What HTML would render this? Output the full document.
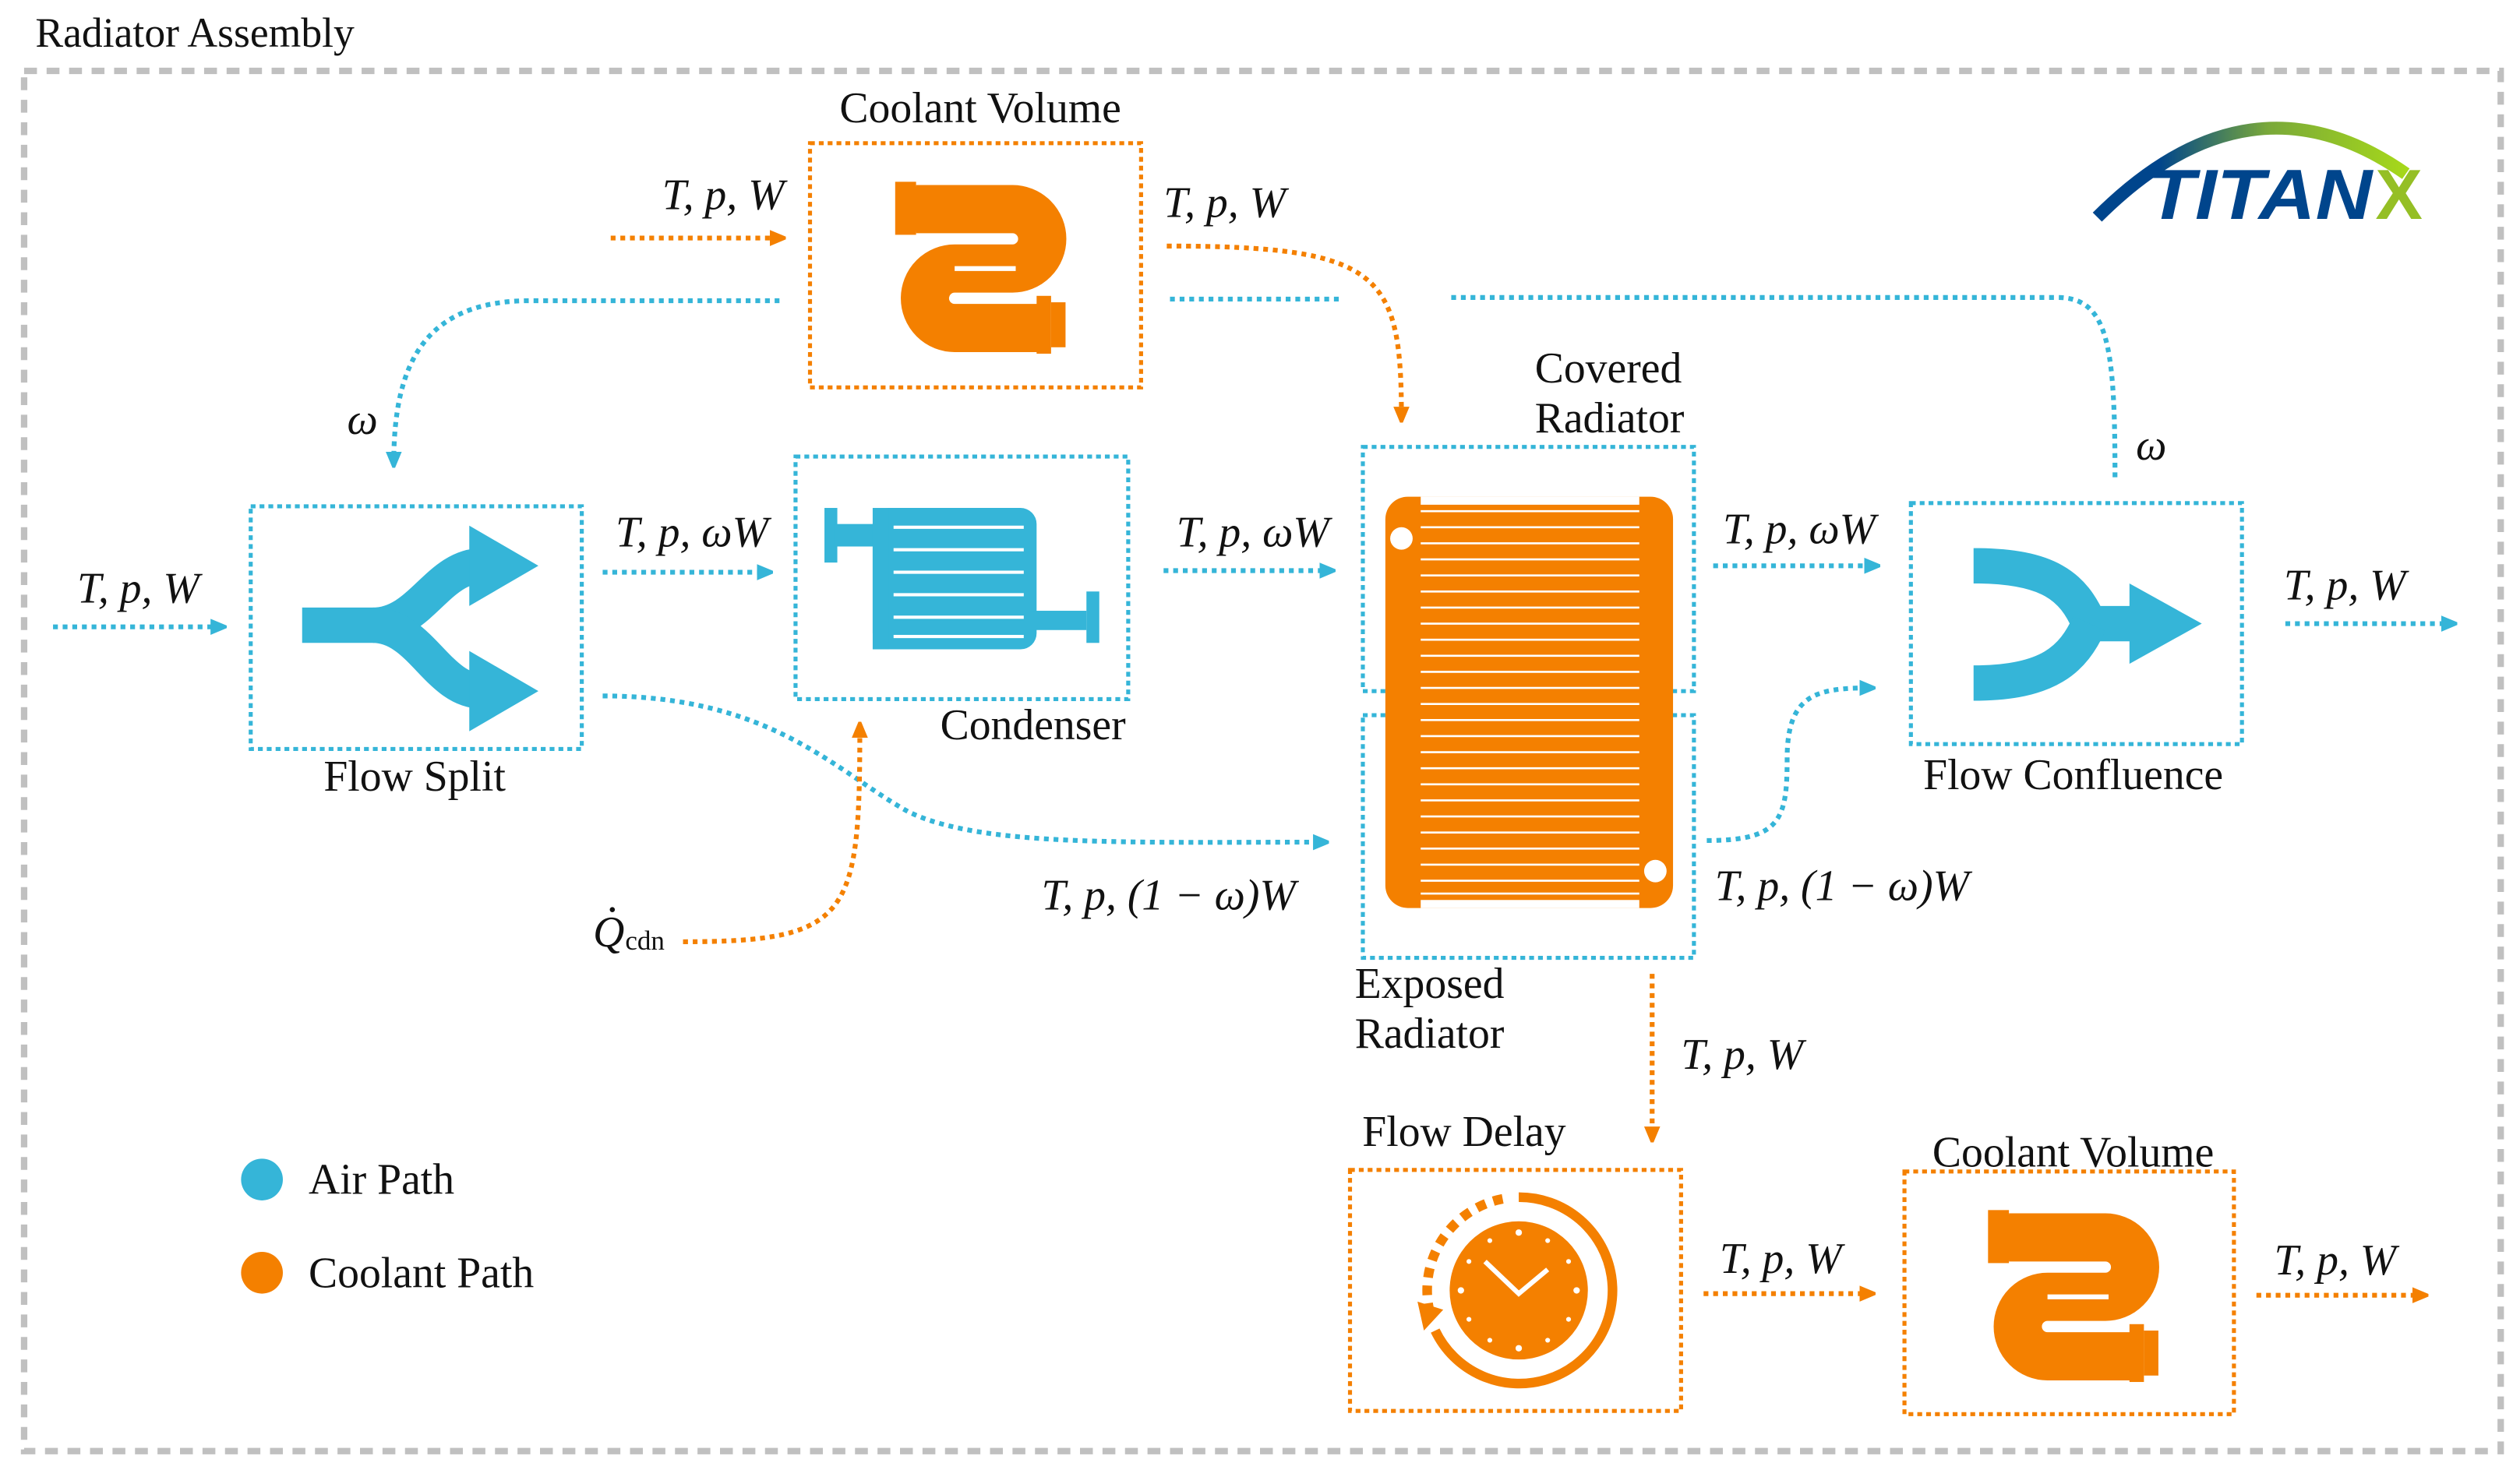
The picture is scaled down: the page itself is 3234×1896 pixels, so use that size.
<!DOCTYPE html>
<html><head><meta charset="utf-8"><style>
html,body{margin:0;padding:0;background:#fff}
svg{display:block}
text{font-family:"Liberation Serif",serif;fill:#111}
.m{font-style:italic}
</style></head><body>
<svg width="3234" height="1896" viewBox="0 0 1568 919" xmlns="http://www.w3.org/2000/svg">
<defs>
<marker id="ab" markerWidth="10" markerHeight="10" refX="7" refY="5" orient="auto" markerUnits="userSpaceOnUse"><path d="M0,0 L12,5 L0,10z" fill="#35b5d8"/></marker>
<marker id="ao" markerWidth="10" markerHeight="10" refX="7" refY="5" orient="auto" markerUnits="userSpaceOnUse"><path d="M0,0 L12,5 L0,10z" fill="#f48000"/></marker>
<linearGradient id="lg" x1="0" x2="1"><stop offset="0.2" stop-color="#00458c"/><stop offset="0.55" stop-color="#79a83a"/><stop offset="1" stop-color="#a6d81a"/></linearGradient>
</defs>
<rect x="15" y="44" width="1541" height="859" fill="none" stroke="#c0c0c0" stroke-width="4" stroke-dasharray="8,6"/>
<text x="22" y="29" font-size="26">Radiator Assembly</text>

<!-- logo -->
<path d="M1305,135 Q1400,40 1497,108" fill="none" stroke="url(#lg)" stroke-width="8"/>
<text x="1336" y="136" font-size="44" font-weight="bold" font-style="italic" style="font-family:'Liberation Sans',sans-serif;fill:#00458c" textLength="140" lengthAdjust="spacingAndGlyphs">TITAN</text>
<text x="1478" y="136" font-size="44" font-weight="bold" style="font-family:'Liberation Sans',sans-serif;fill:#95bf25">X</text>

<g fill="none" stroke-width="2.5" stroke-dasharray="3,2.5">
<rect x="504" y="89" width="206" height="152" stroke="#f48000"/>
<rect x="495" y="284" width="207" height="151" stroke="#35b5d8"/>
<rect x="156" y="315" width="206" height="151" stroke="#35b5d8"/>
<rect x="848" y="278" width="206" height="152" stroke="#35b5d8"/>
<rect x="848" y="445" width="206" height="151" stroke="#35b5d8"/>
<rect x="1189" y="313" width="206" height="150" stroke="#35b5d8"/>
<rect x="840" y="728" width="206" height="150" stroke="#f48000"/>
<rect x="1185" y="729" width="205" height="151" stroke="#f48000"/>
</g>

<!-- connectors -->
<g fill="none" stroke-width="3" stroke-dasharray="3,3">
<path d="M33,390 L138,390" stroke="#35b5d8" marker-end="url(#ab)"/>
<path d="M375,356 L478,356" stroke="#35b5d8" marker-end="url(#ab)"/>
<path d="M375,433 C480,433 520,480 565,505 C610,527 700,524 824,524" stroke="#35b5d8" marker-end="url(#ab)"/>
<path d="M724,355 L828,355" stroke="#35b5d8" marker-end="url(#ab)"/>
<path d="M425,586 C530,586 535,570 535,452" stroke="#f48000" marker-end="url(#ao)"/>
<path d="M380,148 L486,148" stroke="#f48000" marker-end="url(#ao)"/>
<path d="M726,153 C860,153 872,170 872,260" stroke="#f48000" marker-end="url(#ao)"/>
<path d="M485,187 L330,187 C265,187 245,225 245,288" stroke="#35b5d8" marker-end="url(#ab)"/>
<path d="M728,186 L833,186" stroke="#35b5d8"/>
<path d="M903,185 L1280,185 C1312,185 1316,215 1316,297" stroke="#35b5d8"/>
<path d="M1066,352 L1167,352" stroke="#35b5d8" marker-end="url(#ab)"/>
<path d="M1062,523 C1108,523 1112,510 1112,472 C1112,432 1130,428 1164,428" stroke="#35b5d8" marker-end="url(#ab)"/>
<path d="M1422,388 L1526,388" stroke="#35b5d8" marker-end="url(#ab)"/>
<path d="M1028,606 L1028,708" stroke="#f48000" marker-end="url(#ao)"/>
<path d="M1060,805 L1164,805" stroke="#f48000" marker-end="url(#ao)"/>
<path d="M1404,806 L1508,806" stroke="#f48000" marker-end="url(#ao)"/>
</g>

<!-- labels -->
<g font-size="27" class="m">
<text x="48" y="375" class="m">T, p, W</text>
<text x="383" y="340" class="m">T, p, ωW</text>
<text x="412" y="130" class="m">T, p, W</text>
<text x="724" y="135" class="m">T, p, W</text>
<text x="732" y="340" class="m">T, p, ωW</text>
<text x="648" y="566" class="m">T, p, (1 − ω)W</text>
<text x="1072" y="338" class="m">T, p, ωW</text>
<text x="1067" y="560" class="m">T, p, (1 − ω)W</text>
<text x="1421" y="373" class="m">T, p, W</text>
<text x="1046" y="665" class="m">T, p, W</text>
<text x="1070" y="792" class="m">T, p, W</text>
<text x="1415" y="793" class="m">T, p, W</text>
<text x="216" y="270" class="m">ω</text>
<text x="1329" y="286" class="m">ω</text>
<text x="369" y="589" class="m">Q</text>
</g>
<circle cx="381" cy="566" r="1.6" fill="#111"/>
<text x="389" y="591" font-size="17">cdn</text>
<g font-size="27">
<text x="610" y="76" text-anchor="middle">Coolant Volume</text>
<text x="585" y="460">Condenser</text>
<text x="258" y="492" text-anchor="middle">Flow Split</text>
<text x="955" y="238">Covered</text>
<text x="955" y="269">Radiator</text>
<text x="843" y="621">Exposed</text>
<text x="843" y="652">Radiator</text>
<text x="1290" y="491" text-anchor="middle">Flow Confluence</text>
<text x="911" y="713" text-anchor="middle">Flow Delay</text>
<text x="1290" y="726" text-anchor="middle">Coolant Volume</text>
<text x="192" y="743">Air Path</text>
<text x="192" y="801">Coolant Path</text>
</g>
<circle cx="163" cy="734" r="13" fill="#35b5d8"/>
<circle cx="163" cy="792" r="13" fill="#f48000"/>

<!-- flow split icon -->
<g fill="none" stroke="#35b5d8" stroke-width="22">
<path d="M188,389 L232,389 C262,389 272,352 300,352"/>
<path d="M232,389 C262,389 272,430 300,430"/>
</g>
<path d="M292,327 L335,352 L292,377z M292,405 L335,430 L292,455z" fill="#35b5d8"/>
<!-- confluence icon -->
<g fill="none" stroke="#35b5d8" stroke-width="22">
<path d="M1228,352 C1275,352 1290,365 1300,388 L1330,388"/>
<path d="M1228,425 C1275,425 1290,410 1300,388"/>
</g>
<path d="M1325,363 L1370,388 L1325,413z" fill="#35b5d8"/>

<!-- condenser icon -->
<g fill="#35b5d8">
<rect x="513" y="316" width="8" height="34"/>
<rect x="519" y="326" width="26" height="14"/>
<rect x="543" y="316" width="102" height="88" rx="10"/>
<rect x="640" y="380" width="36" height="12"/>
<rect x="676" y="368" width="8" height="32"/>
</g>
<path d="M556,328 L637,328 M556,342 L637,342 M556,356 L637,356 M556,370 L637,370 M556,384 L637,384 M556,396 L637,396" fill="none" stroke="#fff" stroke-width="2"/>
<rect x="543" y="316" width="10" height="88" fill="#35b5d8"/>

<!-- coolant volume icons -->
<g id="cv">
<path d="M570,130 L630,130 A18.5 18.5 0 0 1 630,167 L594,167 A18.5 18.5 0 0 0 594,204 L650,204" fill="none" stroke="#f48000" stroke-width="30"/>
<path d="M594,167 L632,167" fill="none" stroke="#fff" stroke-width="3"/>
<rect x="557" y="113" width="13" height="33" fill="#f48000"/>
<rect x="566" y="116" width="8" height="28" fill="#f48000"/>
<rect x="645" y="184" width="9" height="36" fill="#f48000"/>
<rect x="654" y="188" width="9" height="28" fill="#f48000"/>
</g>
<use href="#cv" transform="translate(680,640)"/>

<!-- radiator -->
<rect x="862" y="309" width="179" height="256" rx="14" fill="#f48000"/>
<g stroke="#fff" stroke-width="1.3">
<path d="M884,318 H1020 M884,328 H1020 M884,338 H1020 M884,348 H1020 M884,358 H1020 M884,368 H1020 M884,378 H1020 M884,388 H1020 M884,398 H1020 M884,408 H1020 M884,418 H1020 M884,428 H1020 M884,438 H1020 M884,448 H1020 M884,458 H1020 M884,468 H1020 M884,478 H1020 M884,488 H1020 M884,498 H1020 M884,508 H1020 M884,518 H1020 M884,528 H1020 M884,538 H1020 M884,548 H1020 M884,556 H1020"/>
</g>
<rect x="884" y="309" width="136" height="5" fill="#fff"/>
<rect x="884" y="560" width="136" height="5" fill="#fff"/>
<circle cx="872" cy="335" r="7" fill="#fff"/>
<circle cx="1030" cy="542" r="7" fill="#fff"/>

<!-- clock -->
<circle cx="945" cy="803" r="43" fill="#f48000"/>
<path d="M945,745 A58 58 0 1 1 893,828" fill="none" stroke="#f48000" stroke-width="6"/>
<path d="M935,746 A58 58 0 0 0 890,818" fill="none" stroke="#f48000" stroke-width="6" stroke-dasharray="6,5"/>
<path d="M882,810 L898,815 L886,828z" fill="#f48000"/>
<path d="M924,785 L945,805 L963,790" fill="none" stroke="#fff" stroke-width="3"/>
<g fill="#fff"><circle cx="945" cy="767" r="2"/><circle cx="945" cy="839" r="2"/><circle cx="909" cy="803" r="2"/><circle cx="981" cy="803" r="2"/><circle cx="963" cy="772" r="1.5"/><circle cx="976" cy="785" r="1.5"/><circle cx="976" cy="821" r="1.5"/><circle cx="963" cy="834" r="1.5"/><circle cx="927" cy="834" r="1.5"/><circle cx="914" cy="821" r="1.5"/><circle cx="914" cy="785" r="1.5"/><circle cx="927" cy="772" r="1.5"/></g>
</svg>
</body></html>
